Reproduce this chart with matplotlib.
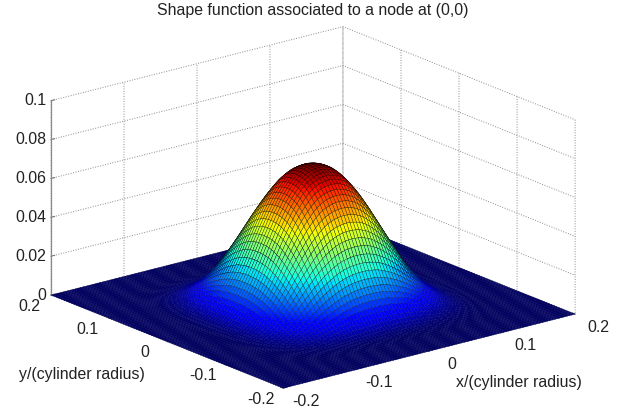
"""Shape function surface, MATLAB-style 3D view."""
import numpy as np
import matplotlib
matplotlib.use("Agg")
import matplotlib.pyplot as plt
from matplotlib import cm
from mpl_toolkits.mplot3d import proj3d

plt.rcParams["font.family"] = ["Liberation Sans", "DejaVu Sans"]
plt.rcParams["grid.color"] = "#8c8c8c"
plt.rcParams["grid.linewidth"] = 0.7
plt.rcParams["grid.linestyle"] = (0, (1, 1.6))

PEAK = 0.072
# profile along one axis, centre outwards
PROFILE = [1.0, .998, .993, .985, .972, .957, .935, .909, .878, .845, .809, .768,
           .725, .678, .630, .58, .53, .477, .425, .375, .327, .28, .238, .198,
           .16, .127, .098, .073, .052, .036, .024, .015, .009, .005, .002,
           0, 0, 0, 0, 0, 0, 0, 0, 0, 0, 0]
XY_TICKS = [-0.2, -0.1, 0, 0.1, 0.2]
XY_LABELS = ["-0.2", "-0.1", "0", "0.1", "0.2"]
Z_TICKS = [0, 0.02, 0.04, 0.06, 0.08, 0.1]
Z_LABELS = ["0", "0.02", "0.04", "0.06", "0.08", "0.1"]
TEXT = "#222222"
FS = 11.4

half = np.array(PROFILE)
prof = np.concatenate([half[:0:-1], half])
grid = np.linspace(-0.2, 0.2, len(prof))
X, Y = np.meshgrid(grid, grid)
Z = PEAK * np.outer(prof, prof)

fig = plt.figure(figsize=(6.24, 4.14), dpi=100)
# tuned so the box corners land where they do in the reference
ax = fig.add_axes([-4.5 / 624, -7 / 414, 1.0, 1.0], projection="3d", proj_type="ortho")
ax.patch.set_alpha(0)
ax.view_init(elev=18.6, azim=-128.5)
ax.set_box_aspect((1, 1, 0.55), zoom=1.327)
ax.set_xlim(-0.2, 0.2, view_margin=0)
ax.set_ylim(-0.2, 0.2, view_margin=0)
ax.set_zlim(0, 0.1, view_margin=0)

t = (Z[:-1, :-1] + Z[1:, 1:]) / 2 / PEAK
face = cm.jet(t)
# flat floor reads darker than jet(0), ease back to plain jet going up the hump
face[..., :3] *= (0.74 + 0.26 * np.clip(t / 0.08, 0, 1))[..., None]
surf = ax.plot_surface(X, Y, Z, facecolors=face, rstride=1, cstride=1, shade=False,
                       linewidth=0.26, antialiased=True)
surf.set_clip_on(False)
# mesh lines take the face colour low down, only the hump shows black ones
s = np.clip(t / 0.3, 0, 1)
edge = face.copy()
edge[..., :3] *= (1 - s)[..., None]
edge[..., 3] = 1 - 0.2 * s
surf.set_edgecolor(edge.reshape(-1, 4))

for axis in (ax.xaxis, ax.yaxis, ax.zaxis):
    axis.set_pane_color((1, 1, 1, 1))
    axis.pane.set_edgecolor("none")
    axis.line.set_color("none")
    axis._axinfo["tick"]["inward_factor"] = 0
    axis._axinfo["tick"]["outward_factor"] = 0.15
    axis._axinfo["tick"]["color"] = "#777777"
ax.set_xticks(XY_TICKS)
ax.set_yticks(XY_TICKS)
ax.set_zticks(Z_TICKS)
ax.set_xticklabels([])
ax.set_yticklabels([])
ax.set_zticklabels([])
ax.tick_params(colors="#777777", width=0.7)

fig.canvas.draw()
M = ax.get_proj()


def put(x, y, z, label, dx, dy, ha="center"):
    px, py, _ = proj3d.proj_transform(x, y, z, M)
    ax.annotate(label, xy=(px, py), xycoords="data", xytext=(dx, dy),
                textcoords="offset pixels", ha=ha, va="center",
                fontsize=FS, color=TEXT, annotation_clip=False)


for v, lab in zip(XY_TICKS, XY_LABELS):
    put(v, -0.2, 0, lab, 23, -12)
    put(-0.2, v, 0, lab, -22, -10)
for v, lab in zip(Z_TICKS, Z_LABELS):
    put(-0.2, 0.2, v, lab, -5, 1, ha="right")

zline = ax.plot([-0.2, -0.2], [0.2, 0.2], [0, 0.1], color="#888888", lw=0.9)[0]
zline.set_clip_on(False)

fig.text(313 / 624, 1 - 10 / 414, "Shape function associated to a node at (0,0)",
         ha="center", va="center", fontsize=FS, color=TEXT)
fig.text(519 / 624, 1 - 383 / 414, "x/(cylinder radius)", ha="center",
         va="center", fontsize=FS, color=TEXT)
fig.text(82 / 624, 1 - 375 / 414, "y/(cylinder radius)", ha="center",
         va="center", fontsize=FS, color=TEXT)

fig.savefig("out.png", dpi=100)
